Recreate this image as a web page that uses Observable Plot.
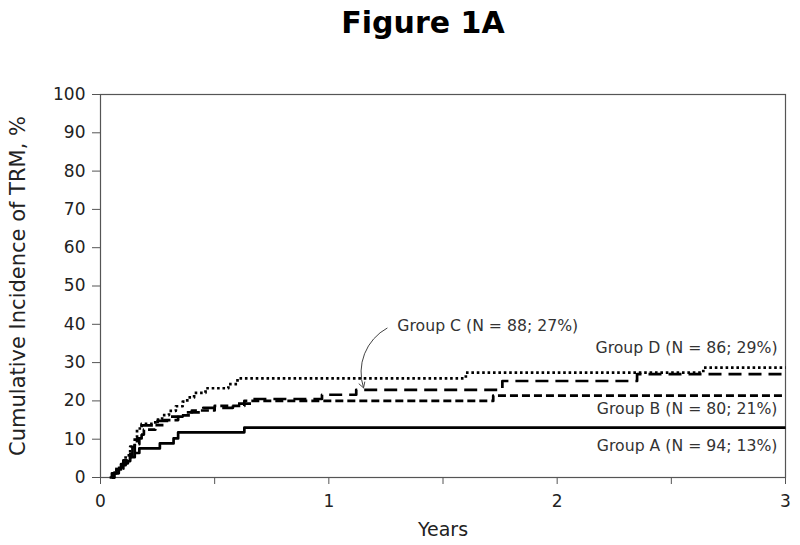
<!DOCTYPE html>
<html><head><meta charset="utf-8">
<script src="https://cdn.jsdelivr.net/npm/d3@7"></script>
<script src="https://cdn.jsdelivr.net/npm/@observablehq/plot@0.6"></script>
<style>
body{margin:0;background:#fff;font-family:"DejaVu Sans",Verdana,sans-serif;}
#title{width:800px;height:60px;box-sizing:border-box;padding-top:8px;padding-left:46px;font-size:30px;line-height:1;font-weight:bold;text-align:center;color:#000;}
</style></head><body>
<div id="title">Figure 1A</div>
<div id="chart"></div>
<script>
// Group A (solid)
const groupA_years = [0.04, 0.05, 0.07, 0.09, 0.11, 0.13, 0.15, 0.17, 0.26, 0.32, 0.34, 0.63, 3];
const groupA_cif   = [0,    1.1,  2.1,  3.2,  4.3,  5.3,  6.4,  7.6,  8.9,  10.2, 11.8, 13.0, 13.0];
// Group B (short dashes)
const groupB_years = [0.05, 0.06, 0.08, 0.10, 0.12, 0.13, 0.15, 0.17, 0.19, 0.24, 0.28, 0.34, 0.40, 0.50, 0.63, 1.72, 3];
const groupB_cif   = [0,    1.2,  2.5,  3.7,  5.0,  6.2,  8.7,  11.2, 12.5, 13.7, 15.0, 16.2, 17.5, 18.7, 20.0, 21.4, 21.4];
// Group C (long dashes)
const groupC_years = [0.05, 0.06, 0.08, 0.10, 0.12, 0.14, 0.16, 0.18, 0.25, 0.30, 0.36, 0.45, 0.58, 0.66, 0.97, 1.12, 1.76, 2.35, 3];
const groupC_cif   = [0,    1.1,  2.3,  4.5,  5.7,  8.0,  10.2, 13.6, 14.8, 15.9, 17.0, 18.2, 19.3, 20.5, 21.6, 22.9, 25.2, 27.0, 27.0];
// Group D (dotted)
const groupD_years = [0.05, 0.06, 0.07, 0.09, 0.11, 0.13, 0.15, 0.16, 0.18, 0.24, 0.27, 0.30, 0.33, 0.36, 0.38, 0.41, 0.46, 0.56, 0.60, 1.60, 2.64, 3];
const groupD_cif   = [0,    1.2,  2.3,  3.5,  5.8,  8.1,  10.5, 12.8, 14.0, 15.1, 16.3, 17.4, 18.6, 19.8, 20.9, 22.1, 23.3, 24.4, 25.9, 27.4, 28.7, 28.7];

const groupNames = ["Group A", "Group B", "Group C", "Group D"];
const groupLabels = ["Group A (N = 94; 13%)", "Group B (N = 80; 21%)", "Group C (N = 88; 27%)", "Group D (N = 86; 29%)"];

const xTicks = [0, 0.5, 1, 1.5, 2, 2.5, 3];
const yTicks = [0, 10, 20, 30, 40, 50, 60, 70, 80, 90, 100];
const xTitle = "Years";
const yTitle = "Cumulative Incidence of TRM, %";

// annotation anchors (data units)
const labelX = [2.965, 2.965, 1.30, 2.965];
const labelY = [7.0, 16.7, 38.2, 32.4];
const arrowStart = [1.255, 39.0];
const arrowEnd = [1.152, 23.4];

const series = [
  [groupA_years, groupA_cif],
  [groupB_years, groupB_cif],
  [groupC_years, groupC_cif],
  [groupD_years, groupD_cif]
];
const rows = series.map(([xs, ys], i) => xs.map((x, j) => ({group: groupNames[i], year: x, cif: ys[j]})));
const dashes = [null, "8,4", "13,7", "2.6,2.8"];
const labels = groupLabels.map((t, i) => ({text: t, x: labelX[i], y: labelY[i], anchor: i === 2 ? "start" : "end"}));

const chart = Plot.plot({
  width: 800, height: 485,
  marginTop: 34, marginBottom: 68, marginLeft: 100, marginRight: 15,
  style: {fontFamily: "'DejaVu Sans', Verdana, sans-serif", fontSize: "17px", color: "#222", background: "#fff"},
  x: {domain: [0, 3]},
  y: {domain: [0, 100]},
  marks: [
    Plot.frame({stroke: "#555", strokeWidth: 1.2}),
    Plot.axisY({ticks: yTicks, tickSize: 8, tickPadding: 7, label: null, stroke: "#555"}),
    Plot.axisX({ticks: xTicks, tickSize: 7, tickPadding: 10, label: null, stroke: "#555",
                tickFormat: d => Number.isInteger(d) ? String(d) : ""}),
    ...rows.map((r, i) => Plot.line(r, {x: "year", y: "cif", curve: "step-after", stroke: "#000",
        strokeWidth: 2.7, strokeDasharray: dashes[i], strokeLinecap: "butt"})),
    Plot.text(labels.filter(d => d.anchor === "end"), {x: "x", y: "y", text: "text", textAnchor: "end", lineAnchor: "bottom", fontSize: 15.7, fill: "#333"}),
    Plot.text(labels.filter(d => d.anchor === "start"), {x: "x", y: "y", text: "text", textAnchor: "start", lineAnchor: "bottom", fontSize: 15.7, fill: "#333"}),
    Plot.arrow([{x1: arrowStart[0], y1: arrowStart[1], x2: arrowEnd[0], y2: arrowEnd[1]}],
      {x1: "x1", y1: "y1", x2: "x2", y2: "y2", bend: -40, stroke: "#444", strokeWidth: 1, headLength: 9}),
    Plot.text([yTitle], {frameAnchor: "left", dx: -82, rotate: -90, textAnchor: "middle", lineAnchor: "middle", fontSize: 21, fill: "#222"}),
    Plot.text([xTitle], {frameAnchor: "bottom", dy: 58, textAnchor: "middle", lineAnchor: "bottom", fontSize: 19, fill: "#222"})
  ]
});
document.getElementById("chart").appendChild(chart);
</script>
</body></html>
